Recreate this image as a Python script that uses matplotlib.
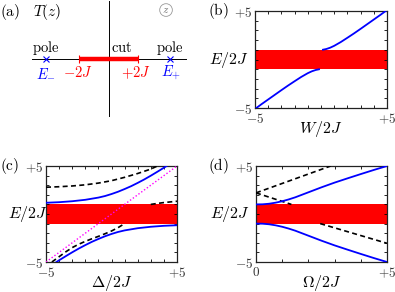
import numpy as np
import matplotlib
matplotlib.use('Agg')
import matplotlib.pyplot as plt

plt.rcParams['mathtext.fontset'] = 'cm'
plt.rcParams['font.family'] = ['DejaVu Serif']

# continuum band E/2J in [-1, 1]
band_lo, band_hi = -1.0, 1.0

# (a) schematic of T(z) on the real axis
pole_pos = [-4.24, 4.2]
cut_ends = [-2.0, 2.0]

# (b) bound state vs W/2J
b_lo_x = [-5.0, -4.5, -4.0, -3.5, -3.0, -2.5, -2.0, -1.5, -1.0, -0.7, -0.4, -0.15]
b_lo_e = [-5.1, -4.6, -4.12, -3.64, -3.16, -2.69, -2.24, -1.80, -1.41, -1.22, -1.08, -1.01]
b_hi_x = [0.15, 0.4, 0.7, 1.0, 1.5, 2.0, 2.5, 3.0, 3.5, 4.0, 4.5, 5.0]
b_hi_e = [1.01, 1.08, 1.22, 1.41, 1.80, 2.24, 2.69, 3.16, 3.64, 4.12, 4.6, 5.1]

# (c) bound states vs Delta/2J
c_hi_x = [-5, -4, -3, -2, -1, -0.5, 0, 0.5, 1, 1.5, 2, 2.5, 3, 3.5, 4, 4.2]
c_hi_e = [1.17, 1.23, 1.33, 1.48, 1.71, 1.87, 2.08, 2.32, 2.6, 2.9, 3.24, 3.6, 3.99, 4.4, 4.82, 5.0]
c_lo_x = [-4.2, -4, -3.5, -3, -2.5, -2, -1.5, -1, -0.5, 0, 0.5, 1, 2, 3, 4, 5]
c_lo_e = [-5.0, -4.82, -4.4, -3.99, -3.6, -3.24, -2.9, -2.6, -2.32, -2.08, -1.87, -1.71, -1.48, -1.33, -1.23, -1.17]
c_dash_up_x = [-5, -4, -3, -2, -1, 0, 1, 2, 3, 3.5]
c_dash_up_e = [2.79, 2.84, 2.92, 3.04, 3.22, 3.47, 3.82, 4.22, 4.68, 5.0]
c_dash_lo_x = [-4.55, -4, -3.5, -3, -2.5, -2, -1.5, -1, -0.5, 0, 0.5, 1.0]
c_dash_lo_e = [-5.0, -4.45, -3.95, -3.5, -3.15, -2.85, -2.58, -2.33, -2.06, -1.77, -1.42, -1.0]
c_dash_mid_x = [3.0, 3.5, 4.0, 4.5, 5.0]
c_dash_mid_e = [1.0, 1.1, 1.19, 1.26, 1.33]
diag_x = [-5, 5]
diag_e = [-5, 5]

# (d) bound states vs Omega/2J
d_hi_x = [0, 0.25, 0.5, 0.75, 1, 1.25, 1.5, 2, 2.5, 3, 3.5, 4, 4.5, 5]
d_hi_e = [1.0, 1.01, 1.07, 1.18, 1.33, 1.52, 1.74, 2.26, 2.78, 3.27, 3.72, 4.16, 4.59, 5.0]
d_lo_x = d_hi_x
d_lo_e = [-v for v in d_hi_e]
d_dash_up_x = [0, 2.85]
d_dash_up_e = [2.2, 5.0]
d_dash_dn1_x = [0, 1.35]
d_dash_dn1_e = [2.2, 1.0]
d_dash_dn2_x = [2.45, 5.0]
d_dash_dn2_e = [-1.0, -3.05]

sym_ticks = list(range(-5, 6))
sym_labels = [r'$-5$'] + [''] * 9 + [r'$+5$']
pos_ticks = list(range(0, 6))
pos_labels = [r'$0$'] + [''] * 4 + [r'$+5$']
e_labels = sym_labels

W, H = 395, 292
fig = plt.figure(figsize=(W / 100, H / 100), dpi=100)

def box(l, t, r, b):
    return [l / W, 1 - b / H, (r - l) / W, (b - t) / H]

blue = '#0000ff'
tick_fs = 9.5
lab_fs = 11.5

def frame(ax, xt, xl, xlabel, letter, ylab_x, letter_x, letter_y):
    ax.axhspan(band_lo, band_hi, color='#ff0000', lw=0, zorder=1)
    ax.set_ylim(-5, 5)
    ax.set_xlim(xt[0], xt[-1])
    ax.set_xticks(xt)
    ax.set_xticklabels(xl)
    ax.set_yticks(sym_ticks)
    ax.set_yticklabels(e_labels)
    ax.tick_params(direction='in', top=True, right=True, length=2.2, width=0.6,
                   labelsize=tick_fs, pad=2, colors='black', labelcolor='#333333')
    ax.tick_params(axis='x', pad=3)
    for s in ax.spines.values():
        s.set_linewidth(0.9)
        s.set_color('#222222')
    ax.set_xlabel(xlabel, fontsize=lab_fs, va='center')
    ax.xaxis.set_label_coords(0.5, -0.22)
    ax.set_ylabel(r'$E/2J$', fontsize=lab_fs, rotation=0, ha='center', va='center')
    ax.yaxis.set_label_coords(ylab_x, 0.5)
    ax.text(letter_x, letter_y, letter, transform=ax.transAxes, fontsize=11,
            ha='center', va='center')

# panel (a)
axa = fig.add_axes(box(0, 0, 195, 130))
axa.set_xlim(-7.356, 5.864)
axa.set_ylim(-4.834, 3.98)
axa.axis('off')
axa.plot([-5.2, 5.25], [0, 0], color='black', lw=0.7)
axa.plot([0, 0], [-3.9, 3.9], color='black', lw=0.7)
axa.plot(cut_ends, [0, 0], color='#ff0000', lw=3.2, solid_capstyle='butt', zorder=3)
axa.plot(cut_ends, [0, 0], ls='none', marker='|', ms=6, mew=0.8, color='#ff0000', zorder=3)
axa.plot(pole_pos, [0, 0], ls='none', marker='x', ms=4.5, mew=0.8, color=blue, zorder=3)
axa.text(pole_pos[0], 0.72, r'$\mathrm{pole}$', fontsize=10.5, ha='center', va='center')
axa.text(pole_pos[1] - 0.05, 0.72, r'$\mathrm{pole}$', fontsize=10.5, ha='center', va='center')
axa.text(0.92, 0.72, r'$\mathrm{cut}$', fontsize=10.5, ha='center', va='center')
axa.text(pole_pos[0], -0.95, r'$E_{-}$', fontsize=10.5, ha='center', va='center', color=blue)
axa.text(pole_pos[1] + 0.05, -0.95, r'$E_{+}$', fontsize=10.5, ha='center', va='center', color=blue)
axa.text(cut_ends[0] - 0.07, -0.95, r'$-2J$', fontsize=10.5, ha='center', va='center', color='#ff0000')
axa.text(cut_ends[1] - 0.14, -0.95, r'$+2J$', fontsize=10.5, ha='center', va='center', color='#ff0000')
axa.text(-6.68, 3.2, r'$\mathrm{(a)}$', fontsize=11, ha='center', va='center')
axa.text(-4.17, 3.2, r'$T(z)$', fontsize=11, ha='center', va='center')
axa.text(3.9, 3.3, r'$z$', fontsize=8, ha='center', va='center', color='#777777',
         bbox=dict(boxstyle='circle,pad=0.12', fc='none', ec='#999999', lw=0.6))

# panel (b)
axb = fig.add_axes(box(255, 11, 387, 108))
frame(axb, sym_ticks, sym_labels, r'$W/2J$', r'$\mathrm{(b)}$', -0.2, -0.28, 0.995)
axb.plot(b_lo_x, b_lo_e, color=blue, lw=1.3, zorder=3)
axb.plot(b_hi_x, b_hi_e, color=blue, lw=1.3, zorder=3)

# panel (c)
axc = fig.add_axes(box(46, 166, 177, 262))
frame(axc, sym_ticks, sym_labels, r'$\Delta/2J$', r'$\mathrm{(c)}$', -0.14, -0.278, 1.0)
axc.plot(c_dash_up_x, c_dash_up_e, color='black', lw=1.2, dashes=(3, 2), zorder=3)
axc.plot(c_dash_lo_x, c_dash_lo_e, color='black', lw=1.2, dashes=(3, 2), zorder=3)
axc.plot(c_dash_mid_x, c_dash_mid_e, color='black', lw=1.2, dashes=(3, 2), zorder=3)
axc.plot(c_hi_x, c_hi_e, color=blue, lw=1.3, zorder=3)
axc.plot(c_lo_x, c_lo_e, color=blue, lw=1.3, zorder=3)
axc.plot(diag_x, diag_e, color='#ff00ff', lw=1.0, dashes=(1, 1.5), zorder=4)

# panel (d)
axd = fig.add_axes(box(256, 166, 387, 262))
frame(axd, pos_ticks, pos_labels, r'$\Omega/2J$', r'$\mathrm{(d)}$', -0.2, -0.29, 0.995)
axd.plot(d_dash_up_x, d_dash_up_e, color='black', lw=1.2, dashes=(3, 2), zorder=3)
axd.plot(d_dash_dn1_x, d_dash_dn1_e, color='black', lw=1.2, dashes=(3, 2), zorder=3)
axd.plot(d_dash_dn2_x, d_dash_dn2_e, color='black', lw=1.2, dashes=(3, 2), zorder=3)
axd.plot(d_hi_x, d_hi_e, color=blue, lw=1.3, zorder=3)
axd.plot(d_lo_x, d_lo_e, color=blue, lw=1.3, zorder=3)

fig.savefig('out.png', dpi=100, facecolor='w')
